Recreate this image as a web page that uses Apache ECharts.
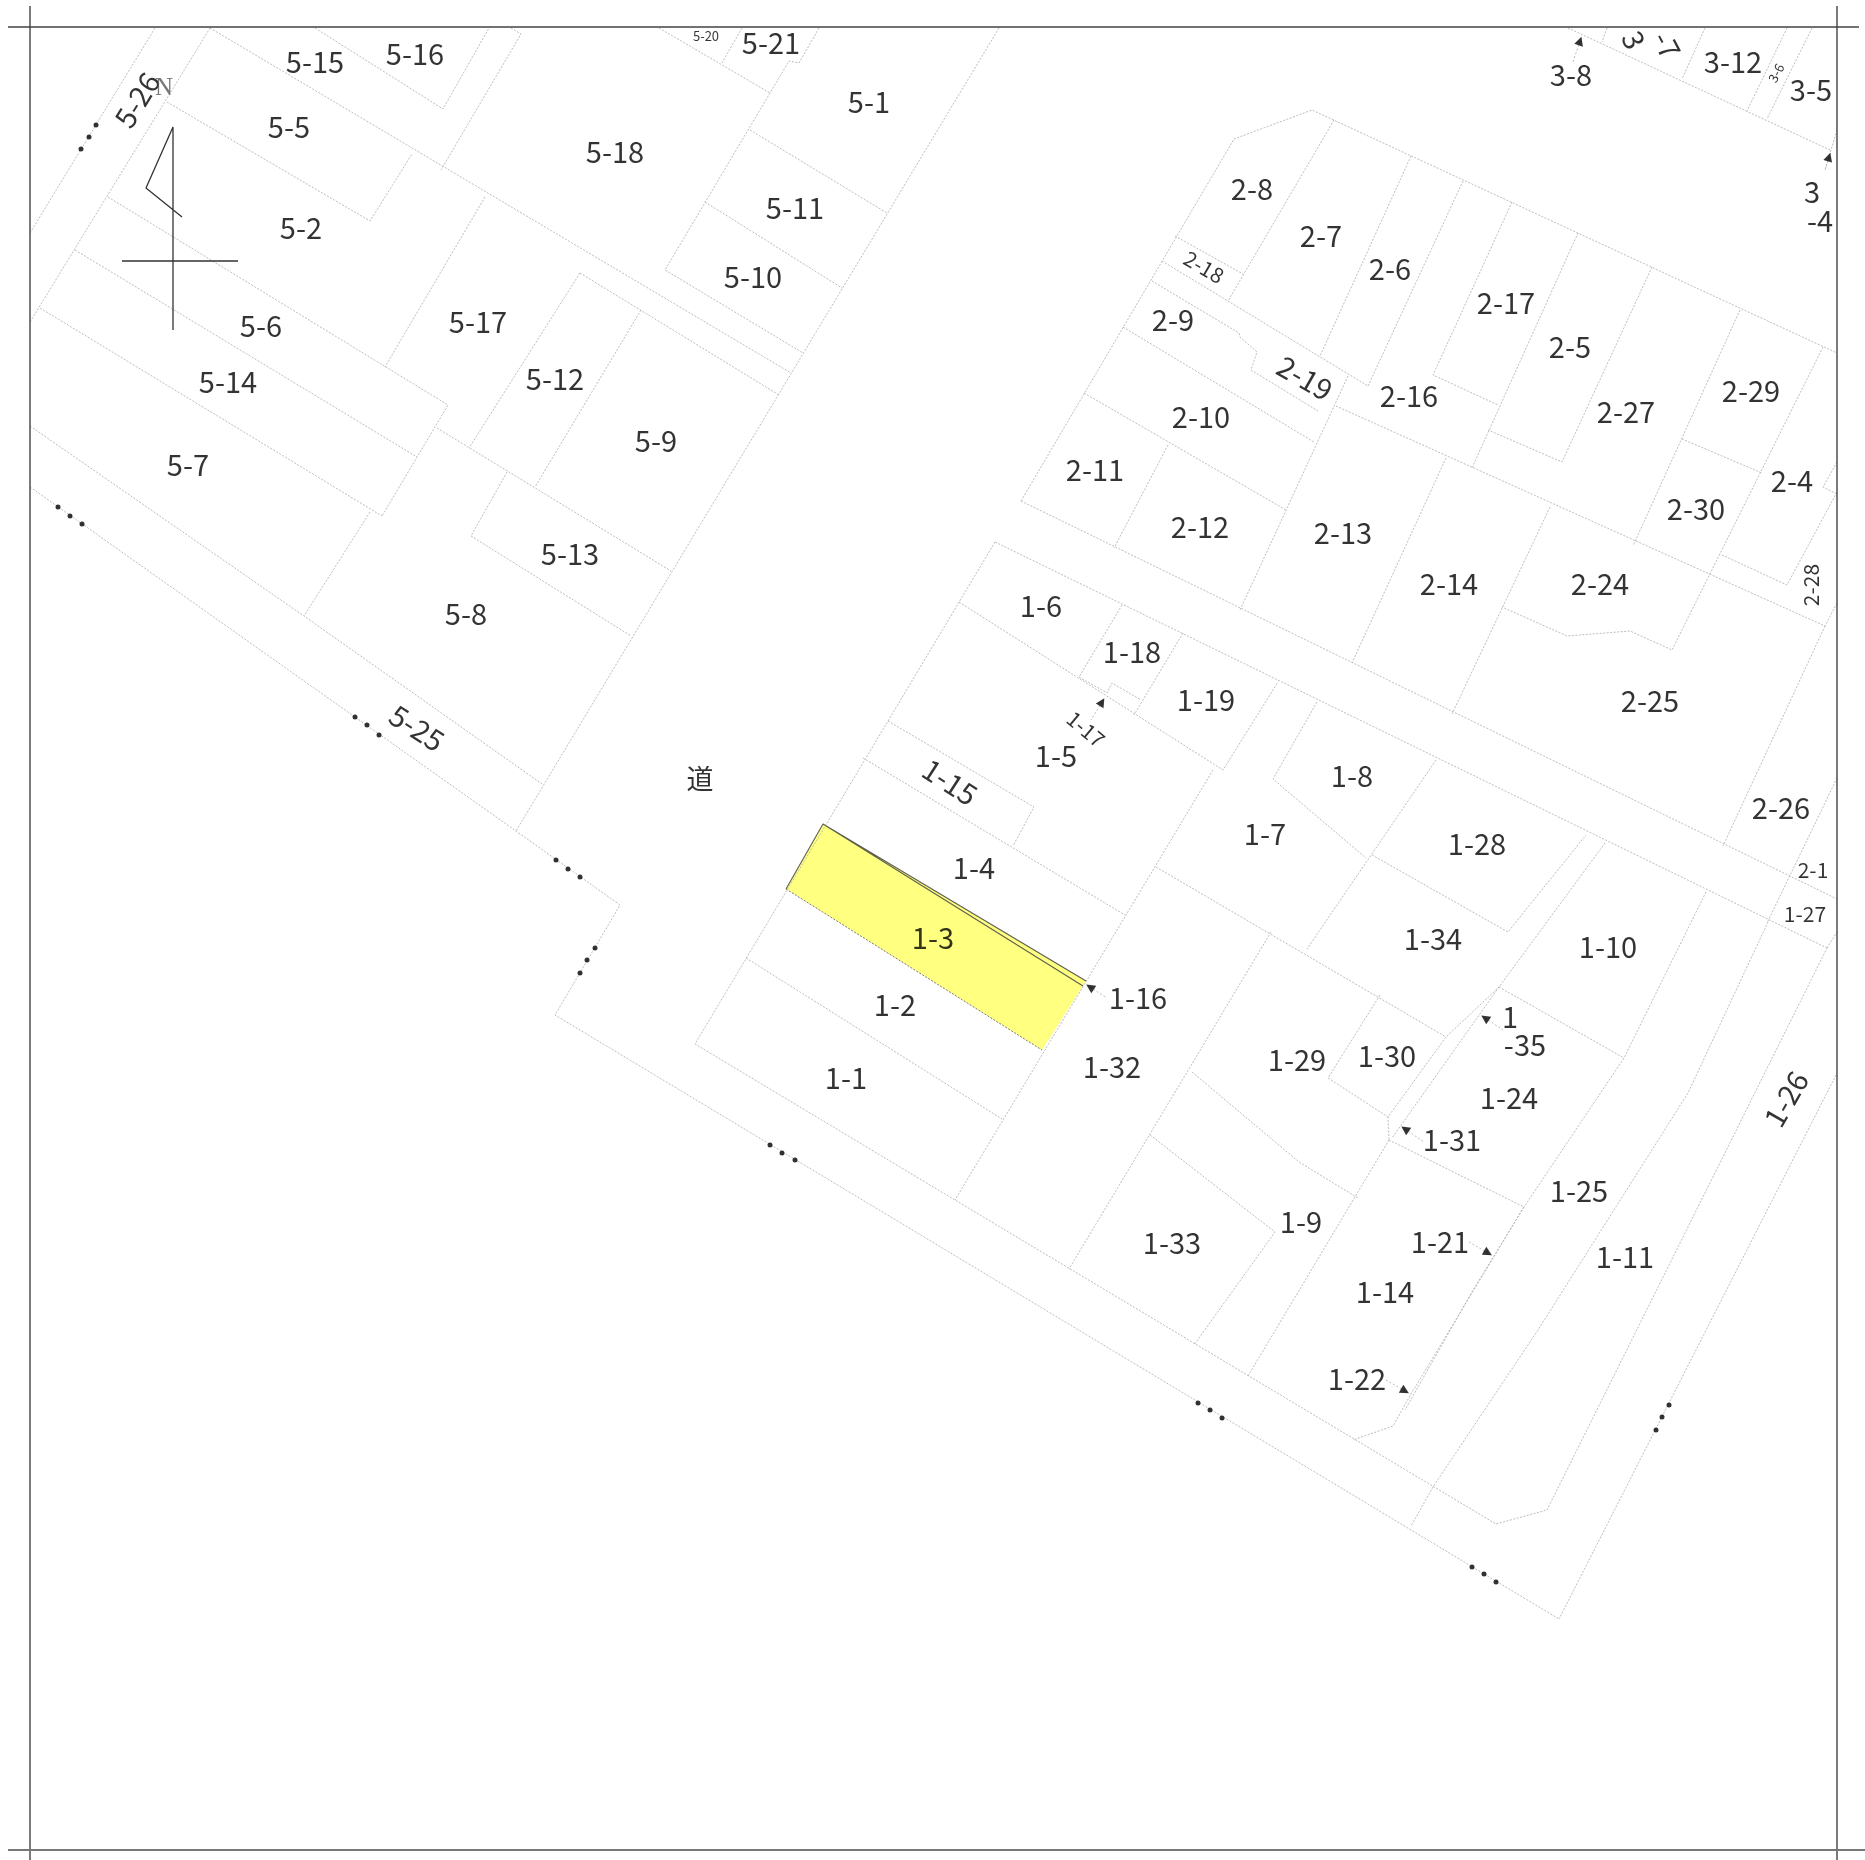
<!DOCTYPE html>
<html><head><meta charset="utf-8">
<script src="https://cdn.jsdelivr.net/npm/echarts@6/dist/echarts.min.js"></script>
<style>html,body{margin:0;padding:0;background:#fff}#c{width:1865px;height:1860px}</style>
</head><body><div id="c"></div>
<script>
const frameLines = [
  [[8,27],[1859,27]], [[30,6],[30,1860]], [[1837,6],[1837,1860]]
];
const frameBottom = [[[8,1850],[1865,1850]]];
const targetParcel = [[823,824],[1086,981],[1042,1050],[786,889]];
const targetEdges = [[[786,889],[823,824],[1086,981]], [[823,824],[1083,986]]];
const targetSouthEdge = [[[786,889],[1042,1050]]];
const northArrow = [[[173,330],[173,127],[146,188],[182,217]], [[122,261],[238,261]]];
const westLines = [
  [[30,233],[155,28]], [[30,322],[210,28]], [[210,28],[791,373]],
  [[315,28],[443,109],[489,28]], [[511,28],[521,34],[441,170]],
  [[167,102],[370,221],[412,154]], [[108,197],[448,405],[382,516]],
  [[75,250],[417,457]], [[40,308],[382,516]], [[485,197],[385,367]],
  [[580,273],[779,395]], [[580,273],[469,448]], [[641,310],[535,487]],
  [[437,428],[671,571]], [[370,512],[304,616]],
  [[30,426],[304,616],[542,784]], [[30,487],[516,831],[620,905],[555,1015],[1559,1619]],
  [[507,472],[471,536],[631,636]],
  [[819,28],[799,63],[789,61],[770,93],[665,270],[803,353]],
  [[742,28],[722,63]], [[659,28],[770,93]], [[750,130],[887,213]], [[705,202],[842,288]],
  [[999,28],[516,831]]
];
const northEastLines = [
  [[1021,501],[1234,139],[1312,110],[1837,353]],
  [[1021,501],[1837,899]], [[995,542],[1827,948]], [[1827,948],[1837,932]],
  [[1334,120],[1228,301]], [[1411,156],[1320,356]], [[1463,181],[1368,386]],
  [[1512,202],[1433,375],[1498,405]], [[1578,233],[1472,468]], [[1652,267],[1562,462],[1488,430]],
  [[1740,310],[1633,546]], [[1682,439],[1762,473]], [[1823,347],[1672,650],[1630,631],[1567,636],[1502,607]],
  [[1722,555],[1787,585],[1837,492]], [[1837,462],[1823,487],[1837,494]],
  [[1336,406],[1825,626],[1837,603]], [[1825,626],[1723,846]], [[1837,778],[1767,923]],
  [[1162,261],[1368,386]], [[1175,236],[1243,274]],
  [[1152,281],[1239,333],[1240,337],[1257,352],[1251,370],[1318,411]],
  [[1123,327],[1314,442]], [[1348,376],[1240,610]], [[1084,393],[1286,510]],
  [[1168,445],[1114,548]], [[1446,458],[1352,663]], [[1550,507],[1452,714]]
];
const blockOneLines = [
  [[995,542],[695,1044],[955,1200],[1496,1524],[1547,1510],[1827,948]],
  [[746,958],[1002,1119]], [[959,602],[1223,770],[1278,682]],
  [[1122,605],[1079,677]], [[1183,633],[1134,715]],
  [[1079,677],[1107,693],[1112,683],[1141,700]],
  [[1213,770],[955,1200]], [[888,721],[1034,807],[1013,846]], [[863,758],[1125,915]],
  [[1156,867],[1446,1037]], [[1317,702],[1273,779],[1366,858]], [[1436,760],[1307,949]],
  [[1372,855],[1508,932],[1586,835]],
  [[1605,843],[1499,987],[1446,1037],[1388,1117],[1389,1140]], [[1499,987],[1392,1138]],
  [[1380,995],[1328,1078],[1388,1117]], [[1271,932],[1069,1269]],
  [[1192,1072],[1299,1162],[1358,1198]], [[1150,1135],[1275,1232],[1194,1345]],
  [[1389,1140],[1248,1376]], [[1389,1140],[1524,1207]],
  [[1524,1207],[1411,1394],[1393,1426],[1353,1440]], [[1524,1207],[1473,1290],[1405,1410]],
  [[1706,892],[1624,1058],[1524,1207]], [[1499,987],[1624,1058]],
  [[1768,922],[1688,1093],[1538,1330],[1433,1487],[1411,1526]],
  [[1836,1075],[1559,1619]]
];
const blockThreeLines = [
  [[1568,28],[1830,150]], [[1607,28],[1602,42]], [[1705,28],[1682,79]],
  [[1787,28],[1747,111]], [[1812,28],[1767,119]], [[1837,130],[1825,170]]
];
const boundaryMarks = [
  [81,149],[89,137],[96,125], [58,507],[70,516],[82,524],
  [355,717],[367,725],[379,735], [556,860],[568,869],[580,877],
  [595,948],[587,960],[580,973], [770,1145],[782,1153],[795,1160],
  [1198,1403],[1210,1410],[1222,1418], [1472,1567],[1484,1574],[1496,1582],
  [1669,1405],[1662,1417],[1656,1430]
];
// leader: arrow tip x,y then tail x,y
const leaders = [
  [1090,987,1107,998], [1102,702,1091,720], [1485,1018,1503,1030], [1405,1129,1424,1142],
  [1488,1253,1469,1242], [1405,1391,1386,1380], [1580,41,1573,62], [1829,157,1825,170]
];
const parcelNames = ['5-15','5-16','5-5','5-2','5-6','5-14','5-7','5-17','5-12','5-9','5-13','5-8','5-18','5-1','5-11','5-10','5-21',
 '2-8','2-7','2-6','2-9','2-16','2-17','2-10','2-11','2-12','2-13','2-14','2-5','2-27','2-29','2-4','2-30','2-24','2-25','2-26',
 '1-28','1-6','1-18','1-19','1-5','1-8','1-7','1-4','1-3','1-2','1-1','1-16','1-32','1-34','1-10','1-29','1-30','1-24','1-31','1-25','1-21','1-9','1-33','1-14','1-11','1-22',
 '3-8','3-12','3-5','3','-4','1','-35'];
const parcelX = [315,415,289,301,261,228,188,478,555,656,570,466,615,869,795,753,771,
 1252,1321,1390,1173,1409,1506,1201,1095,1200,1343,1449,1570,1626,1751,1792,1696,1600,1650,1781,
 1477,1041,1132,1206,1056,1352,1265,974,933,895,846,1138,1112,1433,1608,1297,1387,1509,1452,1579,1440,1301,1172,1385,1625,1357,
 1571,1733,1811,1812,1820,1510,1525];
const parcelY = [62,54,127,228,326,382,465,322,379,441,554,614,152,102,208,277,43,
 189,236,269,320,396,303,417,470,527,533,584,347,412,391,481,509,584,701,808,
 844,606,652,700,756,776,834,868,938,1005,1078,998,1067,939,947,1060,1056,1098,1140,1191,1242,1222,1243,1292,1257,1379,
 75,62,90,192,221,1017,1045];
// name, x, y, angle of the lettering on the plan
const angledNames = [
 ['5-26',137,100,58], ['5-25',417,728,-33], ['2-19',1305,378,-30], ['1-15',950,782,-33],
 ['1-26',1786,1099,60], ['3',1634,40,-65], ['-7',1667,45,-62]
];
const smallNames = [
 ['5-20',706,36,0], ['2-18',1204,267,-30], ['2-28',1811,585,90], ['2-1',1813,870,0],
 ['1-27',1805,914,0], ['1-17',1086,729,-40], ['3-6',1776,73,62]
];
const smallSizes = {'5-20':13,'3-6':13};
const roadName = ['道',700,781];
const northName = ['N',164,88];

const FONT = '"Noto Sans CJK JP","Noto Sans",sans-serif';
const TEXT = '#000';
function flat(groups){const o=[];groups.forEach((g,i)=>{if(i)o.push(['-','-']);g.forEach(p=>o.push(p));});return o;}
function lineSeries(groups,color,width,type,z){return {type:'line',data:flat(groups),symbol:'none',connectNulls:false,silent:true,animation:false,z:z,lineStyle:{color:color,width:width,type:type}};}
const labelled = [];
parcelNames.forEach((n,i)=>labelled.push({value:[parcelX[i],parcelY[i]],name:n,label:{fontSize:29}}));
angledNames.forEach(a=>labelled.push({value:[a[1],a[2]],name:a[0],label:{fontSize:29,rotate:a[3]}}));
smallNames.forEach(a=>labelled.push({value:[a[1],a[2]],name:a[0],label:{fontSize:smallSizes[a[0]]||21,rotate:a[3]}}));
labelled.push({value:[roadName[1],roadName[2]-2],name:roadName[0],label:{fontSize:27}});
labelled.push({value:[northName[1],northName[2]],name:northName[0],label:{fontSize:25,color:'#555',fontFamily:'"Liberation Serif",serif'}});

const chart = echarts.init(document.getElementById('c'),null,{renderer:'canvas'});
chart.setOption({
  animation:false, backgroundColor:'#fff',
  grid:{left:0,right:0,top:0,bottom:0},
  xAxis:{type:'value',min:0,max:1865,show:false},
  yAxis:{type:'value',min:0,max:1860,inverse:true,show:false},
  series:[
    {type:'custom',z:1,silent:true,animation:false,data:[0],clip:false,
     renderItem:function(p,api){return {type:'polygon',shape:{points:targetParcel.map(q=>api.coord(q))},style:{fill:'#ffff80',stroke:null}};}},
    lineSeries([].concat(westLines,northEastLines,blockOneLines,blockThreeLines),'#ababab',0.8,[2,1.5],2),
    lineSeries(leaders.map(l=>[[l[0],l[1]],[l[2],l[3]]]),'#aaa',0.8,[2,2],2),
    lineSeries(targetSouthEdge,'#777',1,[2,1.5],3),
    lineSeries(targetEdges,'#5f5f50',1.1,'solid',3),
    lineSeries(frameLines,'#444',1.4,'solid',4),
    lineSeries(frameBottom,'#777',2,'solid',4),
    lineSeries(northArrow,'#333',1.3,'solid',4),
    {type:'scatter',z:5,silent:true,animation:false,symbol:'circle',symbolSize:5,itemStyle:{color:'#000'},data:boundaryMarks},
    {type:'scatter',z:5,silent:true,animation:false,symbol:'triangle',symbolSize:9,itemStyle:{color:'#000'},
     data:leaders.map(l=>({value:[l[0],l[1]],symbolRotate:Math.atan2(-(l[0]-l[2]),-(l[1]-l[3]))*180/Math.PI}))},
    {type:'scatter',z:6,silent:true,animation:false,symbolSize:1,itemStyle:{color:'rgba(0,0,0,0)'},
     label:{show:true,position:'inside',align:'center',verticalAlign:'middle',color:TEXT,fontFamily:FONT,formatter:'{b}'},
     data:labelled}
  ]
});
</script></body></html>
